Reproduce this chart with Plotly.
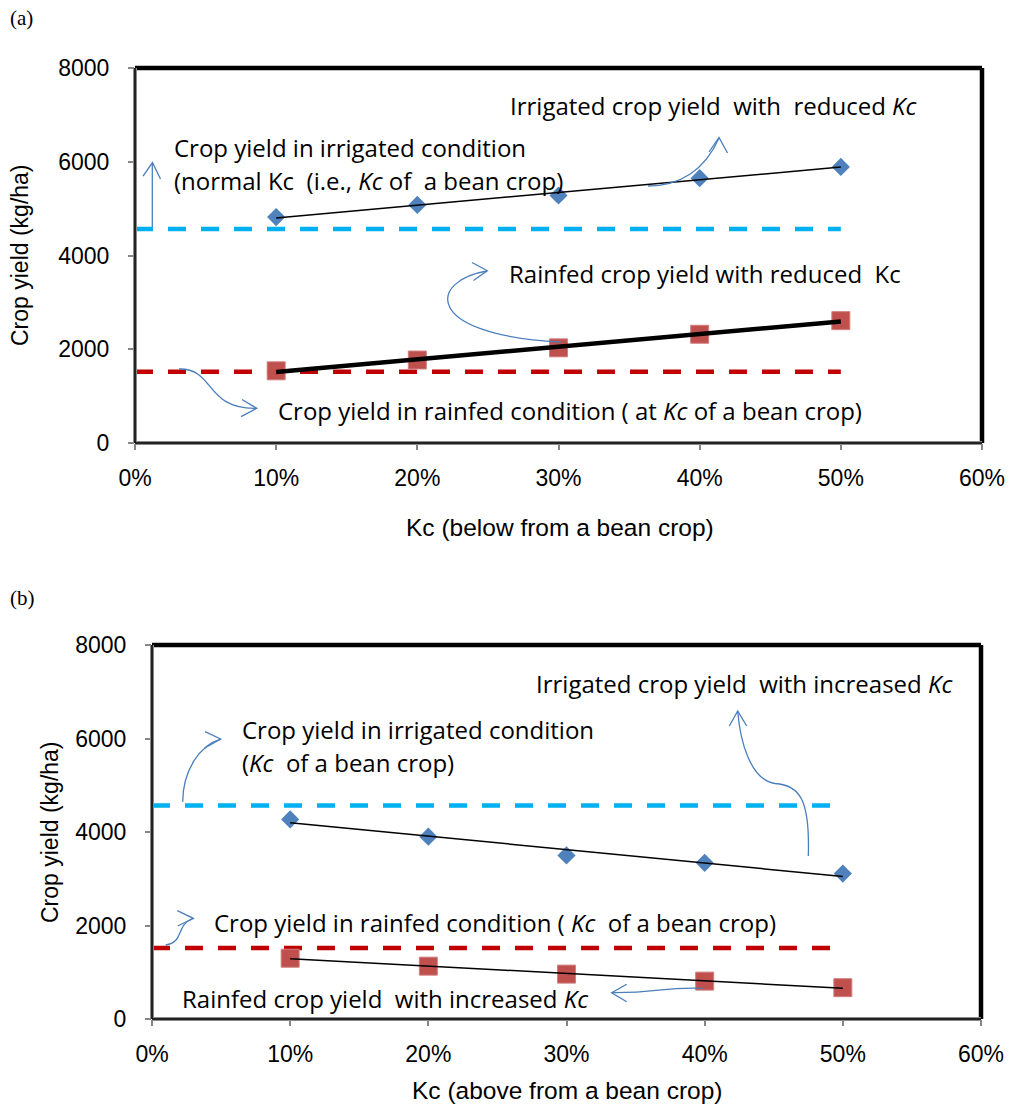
import numpy as np
import plotly.graph_objects as go

W, H = 1014, 1105

# ---------------- data ----------------
kc = [0.1, 0.2, 0.3, 0.4, 0.5]
kc_ticks = [0, 0.1, 0.2, 0.3, 0.4, 0.5, 0.6]
yield_ticks = [0, 2000, 4000, 6000, 8000]

irr_reduced = [4820, 5080, 5280, 5650, 5890]
rain_reduced = [1540, 1770, 2030, 2320, 2610]
irr_increased = [4270, 3900, 3500, 3340, 3110]
rain_increased = [1300, 1130, 960, 810, 670]

irr_base = 4565
rain_base = 1520
base_x = [0, 0.5]

BLUE = "#4F81BD"
RED = "#C0504D"
CYAN = "#00B0F0"
DRED = "#C00000"
ARW = "#4A7EBB"
TXTFONT = "Open Sans"
AXFONT = "Liberation Sans, Arial"


def trend(x, y):
    k, b = np.polyfit(x, y, 1)
    xs = np.array([x[0], x[-1]])
    return xs, k * xs + b


fig = go.Figure()


def add_panel(xa, ya, irr, rain, thick_rain):
    xs, ys = trend(kc, irr)
    xr, yr = trend(kc, rain)
    fig.add_trace(go.Scatter(x=base_x, y=[irr_base, irr_base], mode="lines",
                             line=dict(color=CYAN, width=4.5, dash="18px,15px"),
                             xaxis=xa, yaxis=ya, showlegend=False))
    fig.add_trace(go.Scatter(x=base_x, y=[rain_base, rain_base], mode="lines",
                             line=dict(color=DRED, width=4.5, dash="18px,15px"),
                             xaxis=xa, yaxis=ya, showlegend=False))
    fig.add_trace(go.Scatter(x=kc, y=irr, mode="markers",
                             marker=dict(symbol="diamond", size=14, color=BLUE),
                             xaxis=xa, yaxis=ya, showlegend=False))
    fig.add_trace(go.Scatter(x=kc, y=rain, mode="markers",
                             marker=dict(symbol="square", size=18, color=RED,
                                         line=dict(color="#D08080", width=1)),
                             xaxis=xa, yaxis=ya, showlegend=False))
    fig.add_trace(go.Scatter(x=xs, y=ys, mode="lines",
                             line=dict(color="black", width=1.5),
                             xaxis=xa, yaxis=ya, showlegend=False))
    fig.add_trace(go.Scatter(x=xr, y=yr, mode="lines",
                             line=dict(color="black", width=4.5 if thick_rain else 1.5),
                             xaxis=xa, yaxis=ya, showlegend=False))


add_panel("x", "y", irr_reduced, rain_reduced, True)
add_panel("x2", "y2", irr_increased, rain_increased, False)

# plot-area pixel boxes (left, top, right, bottom)
boxA = (135, 68, 982, 443)
boxB = (152, 645, 981, 1019)


def dom(box):
    l, t, r, b = box
    return [l / W, r / W], [1 - b / H, 1 - t / H]


axcommon = dict(showgrid=False, zeroline=False, showline=False, automargin=False,
                ticks="outside", ticklen=6, tickcolor="#868686", tickwidth=1.5,
                tickfont=dict(family=AXFONT, size=23, color="black"))

dxa, dya = dom(boxA)
dxb, dyb = dom(boxB)
fig.update_layout(
    xaxis=dict(domain=dxa, anchor="y", range=[0, 0.6], tickvals=kc_ticks,
               tickformat=".0%", ticklabelstandoff=8, **axcommon),
    yaxis=dict(domain=dya, anchor="x", range=[0, 8000], tickvals=yield_ticks,
               ticklabelstandoff=14, **axcommon),
    xaxis2=dict(domain=dxb, anchor="y2", range=[0, 0.6], tickvals=kc_ticks,
                tickformat=".0%", ticklabelstandoff=8, **axcommon),
    yaxis2=dict(domain=dyb, anchor="x2", range=[0, 8000], tickvals=yield_ticks,
                ticklabelstandoff=14, **axcommon),
)

shapes = []


def P(x, y):
    return x / W, 1 - y / H


def border(box):
    l, t, r, b = box
    (x0, y1), (x1, y0) = P(l, t), P(r, b)
    shapes.append(dict(type="line", xref="paper", yref="paper", x0=x0, x1=x1, y0=y1, y1=y1,
                       line=dict(color="black", width=4.5)))
    shapes.append(dict(type="line", xref="paper", yref="paper", x0=x1, x1=x1, y0=y0, y1=y1,
                       line=dict(color="black", width=4.5)))
    for c, w in (("#8a8a8a", 4), ("black", 1.5)):
        shapes.append(dict(type="line", xref="paper", yref="paper", x0=x0, x1=x0, y0=y0, y1=y1,
                           line=dict(color=c, width=w)))
        shapes.append(dict(type="line", xref="paper", yref="paper", x0=x0, x1=x1, y0=y0, y1=y0,
                           line=dict(color=c, width=w)))


border(boxA)
border(boxB)


def path_px(cmds):
    out = []
    for c in cmds:
        if isinstance(c, str):
            out.append(c)
        else:
            x, y = P(*c)
            out.append(f"{x:.5f},{y:.5f}")
    return " ".join(out)


def arrow(curve, head):
    shapes.append(dict(type="path", xref="paper", yref="paper", path=path_px(curve),
                       line=dict(color=ARW, width=1.3)))
    a, b, c = head
    shapes.append(dict(type="path", xref="paper", yref="paper",
                       path=path_px(["M", a, "L", b, "L", c]),
                       line=dict(color=ARW, width=1.3)))


# panel (a) arrows
arrow(["M", (152.3, 227), "L", (152.3, 163)], [(143, 176), (152.5, 162.5), (160.5, 179)])
arrow(["M", (648, 186), "C", (680, 186), (705, 170), (719, 138)],
      [(709, 152), (719, 137.5), (727.5, 153)])
arrow(["M", (561, 342), "C", (420, 335), (430, 280), (487, 271)],
      [(472, 262.5), (487.3, 270.7), (473.5, 280.5)])
arrow(["M", (179, 369), "C", (215, 368), (205, 410), (257, 408.3)],
      [(242, 399.5), (256.7, 408.3), (241, 416.7)])

# panel (b) arrows
arrow(["M", (182.7, 801.7), "C", (183, 770), (200, 745), (220.7, 739)],
      [(205, 731.7), (220.7, 739), (204.3, 748.3)])
arrow(["M", (165.7, 945), "C", (185, 942), (175, 925), (193.3, 918.3)],
      [(177.3, 910.7), (193.3, 918.3), (177.7, 926)])
arrow(["M", (808.3, 856), "C", (810, 800), (800, 785), (775, 783.5),
       "C", (750, 780), (740, 740), (737.7, 711)],
      [(729.3, 726), (737.7, 711), (746.7, 726)])
arrow(["M", (702.3, 988.3), "C", (660, 987), (660, 993), (611.7, 992.7)],
      [(626.7, 984.3), (611.7, 992.7), (626.7, 1001.7)])

fig.update_layout(shapes=shapes)

annotations = []


def text(x, y, s, size=24, anchor="left", family=TXTFONT, angle=0):
    px, py = P(x, y)
    annotations.append(dict(x=px, y=py, xref="paper", yref="paper", text=s, showarrow=False,
                            xanchor=anchor, yanchor="middle", textangle=angle,
                            font=dict(family=family, size=size, color="black")))


# panel labels
text(8, 18, "(a)", size=21, family="Liberation Serif, Times New Roman")
text(8, 598, "(b)", size=21, family="Liberation Serif, Times New Roman")

# axis titles
text(560, 527, "Kc (below from a bean crop)", size=24.5, anchor="center", family=AXFONT)
text(567, 1090, "Kc (above from a bean crop)", size=24.5, anchor="center", family=AXFONT)
text(20, 255, "Crop yield (kg/ha)", size=23, anchor="center", family=AXFONT, angle=-90)
text(50, 832, "Crop yield (kg/ha)", size=23, anchor="center", family=AXFONT, angle=-90)

# panel (a) notes
text(508, 105, "Irrigated crop yield  with  reduced <i>Kc</i>")
text(172, 148, "Crop yield in irrigated condition")
text(172, 181, "(normal Kc  (i.e., <i>Kc</i> of  a bean crop)")
text(507, 273, "Rainfed crop yield with reduced  Kc")
text(276, 410, "Crop yield in rainfed condition ( at <i>Kc</i> of a bean crop)")

# panel (b) notes
text(534, 683, "Irrigated crop yield  with increased <i>Kc</i>")
text(240, 729, "Crop yield in irrigated condition")
text(240, 762, "(<i>Kc</i>  of a bean crop)")
text(212, 922, "Crop yield in rainfed condition ( <i>Kc</i>  of a bean crop)")
text(180, 998, "Rainfed crop yield  with increased <i>Kc</i>")

fig.update_layout(annotations=annotations, width=W, height=H,
                  margin=dict(l=0, r=0, t=0, b=0), paper_bgcolor="white",
                  plot_bgcolor="white", showlegend=False)

fig.write_html("out.html", include_plotlyjs=True, config={"displayModeBar": False})
